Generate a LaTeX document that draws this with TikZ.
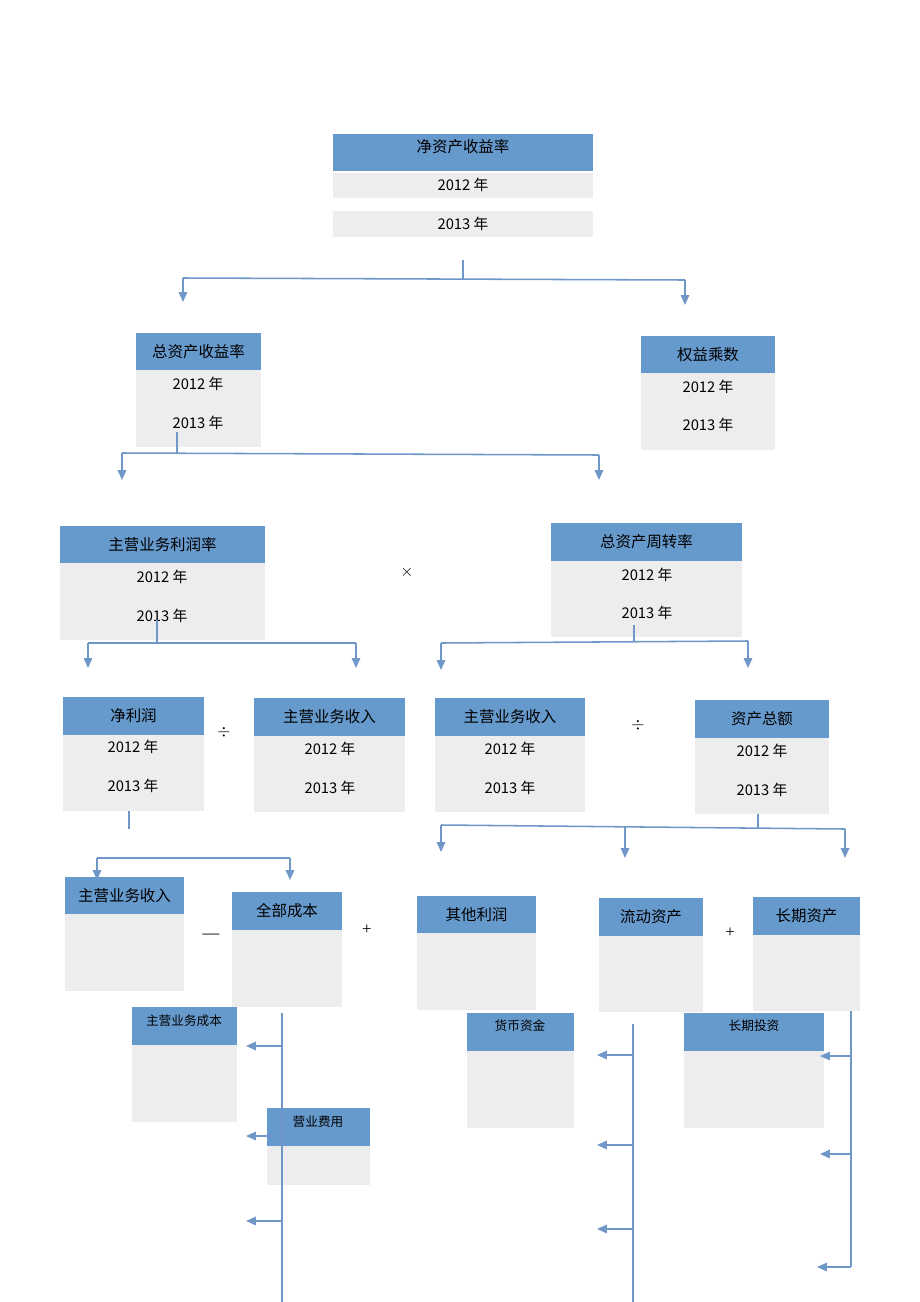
\documentclass[tikz,border=0pt]{standalone}
\usepackage{fontspec}
\setmainfont{Liberation Serif}
\newfontfamily\cjk{Noto Sans CJK SC}
\usetikzlibrary{arrows.meta}
\definecolor{hdrblue}{HTML}{6699CC}
\definecolor{bodygrey}{HTML}{EDEDED}
\definecolor{linkblue}{HTML}{6F98C8}
\tikzset{
    hdr/.style={font=\cjk\fontsize{11}{13}\selectfont, text=black, inner sep=1pt},
    hdrs/.style={font=\cjk\fontsize{9}{11}\selectfont, text=black, inner sep=1pt},
    yr/.style={font=\cjk\fontsize{10.5}{12}\selectfont, text=black, inner sep=1pt},
    op/.style={font=\fontsize{12}{14}\selectfont, inner sep=1pt},
    link/.style={draw=linkblue, line width=1.1pt},
    arr/.style={link, -{Triangle[length=7pt,width=6pt]}},
  }
% name, x1, x2, ytop, ymid, ybot, title
\newcommand\kbox[7]{%
  \fill[hdrblue] (#2,#4) rectangle (#3,#5);
  \fill[bodygrey] (#2,#5) rectangle (#3,#6);
  \node[hdr] (#1) at ({(#2+#3)/2},{(#4+#5)/2}) {#7};}
\newcommand\kyears[4]{% name, x, y2012, y2013
  \node[yr] (#1a) at (#2,#3) {2012 年};
  \node[yr] (#1b) at (#2,#4) {2013 年};}
\begin{document}
\begin{tikzpicture}[x=0.025cm,y=-0.025cm]
  \useasboundingbox (0,0) rectangle (920,1302);
  %TOP
  \fill[hdrblue] (333,134) rectangle (593,171);
  \fill[bodygrey] (333,173) rectangle (593,198);
  \fill[bodygrey] (333,211) rectangle (593,237);
  \node[hdr] (roe) at (463,147) {净资产收益率};
  \kyears{roe}{463}{185}{224}
  \coordinate (t0) at (463,260);
  \coordinate (t1) at (463,279);
  \draw[link] (t0) -- (t1);
  \draw[link] (183,278) -- (685,280);
  \draw[arr] (183,278) -- (183,302);
  \draw[arr] (685,280) -- (685,305);
  %LEVEL 2
  \kbox{roa}{136}{261}{333}{370}{447}{总资产收益率}
  \kyears{roa}{198}{384}{423}
  \kbox{em}{641}{775}{336}{373}{450}{权益乘数}
  \kyears{em}{708}{387}{425}
  \draw[link] (177,432) -- (177,453);
  \draw[link] (122,453) -- (599,455);
  \draw[arr] (122,453) -- (122,480);
  \draw[arr] (599,455) -- (599,480);
  %LEVEL 3
  \kbox{pm}{60}{265}{526}{563}{640}{主营业务利润率}
  \kyears{pm}{162}{577}{616}
  \node[op] (times) at (407,572) {$\times$};
  \kbox{at}{551}{742}{523}{561}{637}{总资产周转率}
  \kyears{at}{647}{575}{613}
  \draw[link] (157,620) -- (157,643);
  \draw[link] (88,643) -- (356,643);
  \draw[arr] (88,643) -- (88,668);
  \draw[arr] (356,643) -- (356,668);
  \draw[link] (634,625) -- (634,642);
  \draw[link] (441,643) -- (748,641);
  \draw[arr] (441,643) -- (441,670);
  \draw[arr] (748,641) -- (748,668);
  %LEVEL 4
  \kbox{np}{63}{204}{697}{735}{811}{净利润}
  \kyears{np}{133}{747}{786}
  \node[op] (div1) at (224,732) {$\div$};
  \kbox{rev1}{254}{405}{698}{736}{812}{主营业务收入}
  \kyears{rev1}{330}{749}{788}
  \kbox{rev2}{435}{585}{698}{736}{812}{主营业务收入}
  \kyears{rev2}{510}{749}{788}
  \node[op] (div2) at (638,725) {$\div$};
  \kbox{ta}{695}{829}{700}{738}{814}{资产总额}
  \kyears{ta}{762}{751}{790}
  \draw[link] (129,811) -- (129,829);
  \draw[link] (97,858) -- (290,858);
  \draw[arr] (97,858) -- (97,880);
  \draw[arr] (290,858) -- (290,880);
  \draw[link] (758,814) -- (758,828);
  \draw[link] (441,825) -- (845,829);
  \draw[arr] (441,825) -- (441,852);
  \draw[arr] (625,826) -- (625,858);
  \draw[arr] (845,829) -- (845,858);
  %LEVEL 5
  \kbox{rev3}{65}{184}{877}{914}{991}{主营业务收入}
  \node[op] (minus) at (211,936) {—};
  \kbox{cost}{232}{342}{892}{930}{1007}{全部成本}
  \node[op] (plus1) at (367,930) {+};
  \kbox{op}{417}{536}{896}{933}{1010}{其他利润}
  \kbox{ca}{599}{703}{898}{936}{1012}{流动资产}
  \node[op] (plus2) at (730,933) {+};
  \kbox{la}{753}{860}{897}{935}{1011}{长期资产}
  %LEVEL 6
  \fill[hdrblue] (132,1007) rectangle (237,1045);
  \fill[bodygrey] (132,1045) rectangle (237,1122);
  \node[hdrs] (cogs) at (184,1021) {主营业务成本};
  \fill[hdrblue] (267,1108) rectangle (370,1146);
  \fill[bodygrey] (267,1146) rectangle (370,1185);
  \node[hdrs] (sell) at (318,1122) {营业费用};
  \draw[link] (282,1013) -- (282,1302);
  \foreach \y in {1046,1136,1221} \draw[arr] (282,\y) -- (246,\y);
  \fill[hdrblue] (467,1013) rectangle (574,1051);
  \fill[bodygrey] (467,1051) rectangle (574,1128);
  \node[hdrs] (cash) at (520,1026) {货币资金};
  \draw[link] (633,1024) -- (633,1302);
  \foreach \y in {1055,1145,1229} \draw[arr] (633,\y) -- (597,\y);
  \fill[hdrblue] (684,1013) rectangle (824,1051);
  \fill[bodygrey] (684,1051) rectangle (824,1128);
  \node[hdrs] (lti) at (754,1026) {长期投资};
  \draw[link] (851,1011) -- (851,1267);
  \foreach \y in {1056,1154} \draw[arr] (851,\y) -- (820,\y);
  \draw[arr] (851,1267) -- (817,1267);
\end{tikzpicture}
\end{document}
